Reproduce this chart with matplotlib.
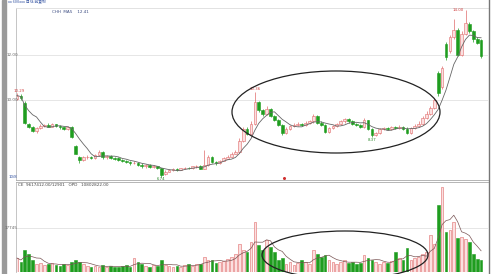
import matplotlib.pyplot as plt
import matplotlib.patches as mpatches
import numpy as np
import pandas as pd

# daily candles (price)
opens = [10.05, 10.20, 9.85, 8.95, 8.80, 8.62, 8.75, 8.85, 8.90, 8.82,
         8.92, 8.85, 8.78, 8.70, 8.82, 7.95, 7.45, 7.35, 7.45, 7.48,
         7.42, 7.55, 7.70, 7.45, 7.50, 7.42, 7.40, 7.35, 7.30, 7.25,
         7.18, 7.22, 7.12, 7.05, 7.10, 7.02, 7.05, 6.98, 6.70, 6.82,
         6.88, 6.92, 6.90, 6.96, 7.00, 6.98, 7.05, 7.08, 6.95, 7.10,
         7.45, 7.25, 7.18, 7.30, 7.40, 7.48, 7.62, 7.70, 8.20, 8.70,
         8.50, 8.95, 9.90, 9.55, 9.40, 9.60, 9.30, 9.10, 8.90, 8.55,
         8.70, 8.85, 8.90, 8.95, 8.90, 9.00, 9.05, 9.30, 9.00, 8.90,
         8.60, 8.75, 8.85, 8.95, 9.05, 9.15, 9.05, 8.95, 8.90, 8.80,
         9.10, 8.70, 8.45, 8.55, 8.70, 8.75, 8.70, 8.80, 8.75, 8.80,
         8.72, 8.55, 8.75, 8.85, 8.95, 9.20, 9.40, 9.65, 11.20, 10.60,
         12.50, 12.20, 12.80, 13.10, 12.00, 12.95, 13.40, 13.05, 12.70, 12.65]
closes = [10.20, 10.10, 9.00, 8.80, 8.62, 8.75, 8.85, 8.90, 8.82, 8.92,
          8.85, 8.78, 8.70, 8.82, 8.35, 7.62, 7.35, 7.45, 7.48, 7.42,
          7.55, 7.70, 7.45, 7.50, 7.42, 7.40, 7.35, 7.30, 7.25, 7.18,
          7.22, 7.12, 7.05, 7.10, 7.02, 7.05, 6.98, 6.68, 6.82, 6.88,
          6.92, 6.90, 6.96, 7.00, 6.98, 7.05, 7.08, 6.95, 7.10, 7.45,
          7.25, 7.18, 7.30, 7.40, 7.48, 7.62, 7.70, 8.20, 8.70, 8.50,
          8.95, 9.90, 9.55, 9.40, 9.60, 9.30, 9.10, 8.90, 8.55, 8.70,
          8.85, 8.90, 8.95, 8.90, 9.00, 9.05, 9.30, 9.00, 8.90, 8.60,
          8.75, 8.85, 8.95, 9.05, 9.15, 9.05, 8.95, 8.90, 8.80, 9.10,
          8.70, 8.45, 8.55, 8.70, 8.75, 8.70, 8.80, 8.75, 8.80, 8.72,
          8.55, 8.75, 8.85, 8.95, 9.20, 9.40, 9.65, 10.00, 10.30, 11.40,
          11.90, 12.80, 13.10, 12.00, 12.95, 13.40, 13.05, 12.70, 12.55, 11.95]
highs = [10.29, 10.25, 9.95, 9.00, 8.85, 8.80, 8.92, 8.95, 8.96, 8.98,
         8.95, 8.90, 8.82, 8.86, 8.86, 7.98, 7.50, 7.52, 7.55, 7.52,
         7.62, 7.78, 7.75, 7.56, 7.55, 7.48, 7.45, 7.40, 7.35, 7.30,
         7.28, 7.25, 7.18, 7.15, 7.14, 7.10, 7.08, 7.00, 6.88, 6.92,
         6.98, 6.96, 7.00, 7.04, 7.04, 7.08, 7.12, 7.10, 7.80, 7.55,
         7.50, 7.30, 7.35, 7.45, 7.55, 7.68, 7.80, 8.30, 8.80, 8.78,
         9.05, 10.36, 9.95, 9.62, 9.75, 9.65, 9.35, 9.15, 8.95, 8.80,
         8.90, 8.98, 9.02, 9.00, 9.08, 9.12, 9.40, 9.35, 9.05, 8.95,
         8.80, 8.90, 9.00, 9.12, 9.22, 9.20, 9.10, 9.00, 8.95, 9.18,
         9.12, 8.75, 8.60, 8.75, 8.82, 8.80, 8.85, 8.85, 8.88, 8.85,
         8.78, 8.82, 8.92, 9.05, 9.28, 9.50, 9.75, 10.10, 11.30, 11.50,
         12.60, 12.90, 13.60, 13.20, 13.05, 14.00, 13.45, 13.10, 12.80, 12.70]
lows = [10.00, 10.02, 8.95, 8.75, 8.58, 8.55, 8.70, 8.80, 8.78, 8.80,
        8.80, 8.72, 8.65, 8.66, 8.30, 7.58, 7.20, 7.30, 7.40, 7.38,
        7.40, 7.50, 7.40, 7.40, 7.38, 7.33, 7.30, 7.25, 7.20, 7.12,
        7.15, 7.08, 7.00, 7.00, 6.98, 6.96, 6.92, 6.60, 6.66, 6.78,
        6.84, 6.86, 6.88, 6.92, 6.94, 6.95, 7.00, 6.92, 6.92, 7.05,
        7.20, 7.12, 7.15, 7.28, 7.36, 7.45, 7.58, 7.65, 8.15, 8.45,
        8.45, 8.90, 9.45, 9.30, 9.35, 9.25, 9.05, 8.85, 8.45, 8.50,
        8.65, 8.80, 8.86, 8.85, 8.86, 8.95, 9.00, 8.95, 8.85, 8.55,
        8.55, 8.70, 8.80, 8.90, 9.00, 9.00, 8.90, 8.85, 8.75, 8.75,
        8.65, 8.37, 8.40, 8.50, 8.65, 8.65, 8.66, 8.70, 8.70, 8.68,
        8.50, 8.50, 8.70, 8.80, 8.90, 9.15, 9.35, 9.60, 10.20, 10.50,
        11.80, 12.10, 12.70, 11.95, 11.95, 12.90, 13.00, 12.60, 12.50, 11.85]

# volume (shares)
volume = [5600, 4000, 8800, 7200, 4800, 3200, 3600, 2800, 3200, 3600,
          2800, 2400, 3200, 2800, 4000, 4800, 4000, 3200, 2400, 2000,
          2400, 2000, 2800, 2000, 2400, 2000, 2000, 2400, 2800, 2000,
          5600, 4000, 3200, 2400, 2000, 2800, 2400, 4800, 2800, 2400,
          2000, 2400, 2000, 2800, 3200, 2400, 3200, 3200, 6000, 4800,
          4800, 3600, 4000, 4400, 5200, 6000, 7200, 11200, 8800, 8000,
          12000, 20000, 10800, 8800, 12800, 10000, 8000, 4800, 5600, 3200,
          4000, 2800, 3600, 4800, 4000, 3200, 8800, 7200, 6000, 6800,
          4800, 4000, 3200, 4000, 4800, 3600, 4000, 3200, 3600, 6800,
          5600, 4800, 4000, 3200, 4000, 3600, 4400, 8000, 5600, 4800,
          9600, 4800, 5600, 6000, 7200, 8000, 14800, 11200, 26800, 34000,
          16000, 16800, 20000, 13600, 14000, 13200, 12000, 7200, 5200, 4800]

opens = np.array(opens)
closes = np.array(closes)
highs = np.array(highs)
lows = np.array(lows)
volume = np.array(volume)
x = np.arange(len(closes))
up = closes >= opens

ma_price = pd.Series(closes).rolling(6, min_periods=1).mean()
ma_vol = pd.Series(volume).rolling(5, min_periods=1).mean()

RED_EDGE = '#e06a6a'
RED_FILL = '#fbe0e0'
GREEN = '#1f9d1f'

W, H = 499, 274
fig = plt.figure(figsize=(W / 100, H / 100), dpi=100)
fig.patch.set_facecolor('white')

def px_axes(left, top, right, bottom):
    return fig.add_axes([left / W, 1 - bottom / H, (right - left) / W, (bottom - top) / H])

x0 = -1 / 3.9
x1 = (488 - 17) / 3.9

# price panel
ax = px_axes(16, 8, 488, 180)
ax.set_xlim(x0, x1)
ax.set_ylim(10 - 80 / 22.5, 10 + 92 / 22.5)
for lvl in [12, 10]:
    ax.axhline(lvl, color='#e2e2e2', lw=0.6, zorder=0)
col_edge = np.where(up, RED_EDGE, GREEN)
col_fill = np.where(up, RED_FILL, GREEN)
ax.vlines(x, lows, highs, colors=col_edge, lw=0.5, zorder=1)
body = np.maximum(np.abs(closes - opens), 0.02)
ax.bar(x, body, bottom=np.minimum(opens, closes), width=0.7,
       color=col_fill, edgecolor=col_edge, linewidth=0.4, zorder=2)
ax.plot(x, ma_price, color='#666666', lw=0.6, zorder=3)
ax.text(0.5, 10.32, '10.29', color='#d04040', fontsize=2.8, ha='center', va='bottom')
ax.text(61, 10.40, '10.36', color='#d04040', fontsize=2.8, ha='center', va='bottom')
ax.text(37, 6.56, '6.74', color='#2a8a2a', fontsize=2.8, ha='center', va='top')
ax.text(91, 8.33, '8.37', color='#2a8a2a', fontsize=2.8, ha='center', va='top')
ax.text(113, 14.0, '14.00', color='#d04040', fontsize=2.8, ha='center', va='center')
ax.plot([68.5], [6.55], marker='o', ms=1.2, color='#d03030')
ax.set_xticks([])
ax.set_yticks([])
for s in ['right']:
    ax.spines[s].set_visible(False)
ax.spines['left'].set_color('#bbbbbb')
ax.spines['top'].set_color('#dddddd')
ax.spines['bottom'].set_color('#aaaaaa')
for s in ax.spines.values():
    s.set_linewidth(0.6)

# volume panel
av = px_axes(16, 182, 488, 272)
av.set_xlim(x0, x1)
av.set_ylim(0, 36000)
av.axhline(17745, color='#e2e2e2', lw=0.6, zorder=0)
av.bar(x, volume, width=0.7, color=col_fill, edgecolor=col_edge, linewidth=0.4, zorder=2)
av.plot(x, ma_vol, color='#7a5555', lw=0.5, zorder=3)
av.set_xticks([])
av.set_yticks([])
av.spines['right'].set_visible(False)
av.spines['bottom'].set_visible(False)
av.spines['left'].set_color('#bbbbbb')
av.spines['top'].set_color('#aaaaaa')
for s in av.spines.values():
    s.set_linewidth(0.6)

# overlay for frame, labels and hand-drawn ellipses
ov = fig.add_axes([0, 0, 1, 1], facecolor='none')
ov.set_xlim(0, W)
ov.set_ylim(H, 0)
ov.axis('off')
ov.add_patch(mpatches.Rectangle((2, 0), 4, H, color='#9a9a9a'))
ov.plot([489, 489], [0, H], color='#777777', lw=1.0)
ov.text(8, 2, 'xx 600xxx 日线 前复权', color='#3050a0', fontsize=2.8, va='center',
        family=['Noto Sans CJK SC', 'DejaVu Sans'])
ov.text(52, 12, 'CHH  MA5    12.41', color='#3a4a80', fontsize=3.0, va='center')
ov.text(7, 55, '12.00', color='#666666', fontsize=3.0, va='center')
ov.text(7, 100, '10.00', color='#666666', fontsize=3.0, va='center')
ov.text(9, 177, '10/8', color='#3050a0', fontsize=2.8, va='center')
ov.text(18, 185, 'CE  9617412.00/12901   OPD   10802822.00', color='#444444', fontsize=3.0, va='center')
ov.text(5, 228, '17745', color='#666666', fontsize=3.0, va='center')
ov.add_patch(mpatches.Ellipse((336, 112), 208, 82, fill=False, ec='#222222', lw=0.9))
ov.add_patch(mpatches.Ellipse((345, 255), 166, 48, fill=False, ec='#222222', lw=0.9))

fig.savefig('out.png', dpi=100)
